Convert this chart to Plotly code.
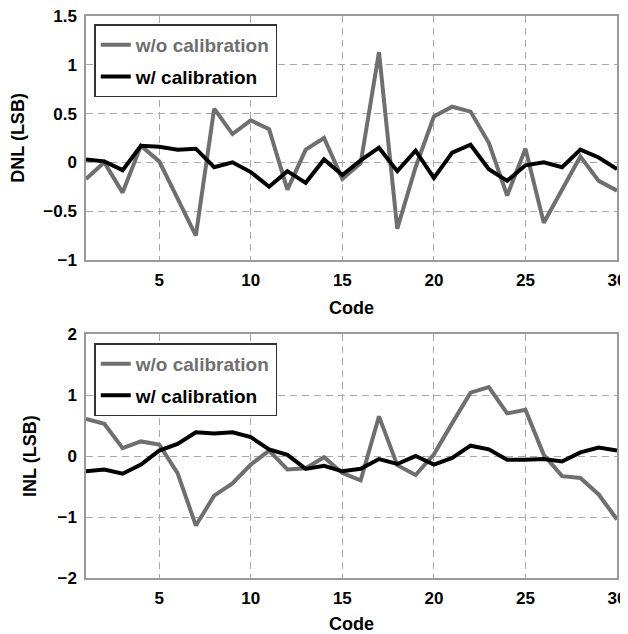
import plotly.graph_objects as go
from plotly.subplots import make_subplots

codes = list(range(1, 31))

dnl_wo = [-0.17, 0.0, -0.31, 0.17, 0.01, -0.38, -0.75, 0.55, 0.29, 0.43,
          0.34, -0.28, 0.13, 0.25, -0.17, -0.01, 1.13, -0.68, -0.05, 0.47,
          0.57, 0.52, 0.2, -0.34, 0.14, -0.62, -0.29, 0.06, -0.19, -0.29]
dnl_w = [0.03, 0.01, -0.08, 0.17, 0.16, 0.13, 0.14, -0.05, 0.0, -0.1,
         -0.25, -0.09, -0.21, 0.03, -0.13, 0.02, 0.15, -0.09, 0.12, -0.16,
         0.10, 0.18, -0.07, -0.19, -0.03, 0.0, -0.05, 0.13, 0.05, -0.07]
inl_wo = [0.61, 0.53, 0.13, 0.24, 0.19, -0.28, -1.14, -0.65, -0.45, -0.14,
          0.09, -0.22, -0.2, -0.02, -0.28, -0.4, 0.65, -0.15, -0.31, 0.03,
          0.54, 1.04, 1.13, 0.7, 0.76, 0.02, -0.33, -0.36, -0.63, -1.04]
inl_w = [-0.25, -0.22, -0.29, -0.14, 0.09, 0.2, 0.39, 0.37, 0.39, 0.31,
         0.11, 0.02, -0.21, -0.16, -0.25, -0.21, -0.05, -0.13, 0.0, -0.14,
         -0.03, 0.17, 0.11, -0.06, -0.06, -0.05, -0.09, 0.06, 0.14, 0.09]

x_ticks = [5, 10, 15, 20, 25, 30]
dnl_ticks = [-1, -0.5, 0, 0.5, 1, 1.5]
inl_ticks = [-2, -1, 0, 1, 2]

name_wo = "w/o calibration"
name_w = "w/ calibration"
GRAY = "#6f6f6f"
FONT = "Liberation Sans, Arial, sans-serif"

fig = make_subplots(rows=2, cols=1, vertical_spacing=0.132)

def add_pair(y_wo, y_w, row, legend):
    fig.add_trace(go.Scatter(x=codes, y=y_wo, mode="lines",
                             name='<span style="color:%s">%s</span>' % (GRAY, name_wo),
                             line=dict(color=GRAY, width=4), legend=legend,
                             legendgroup=legend + "a"), row=row, col=1)
    fig.add_trace(go.Scatter(x=codes, y=y_w, mode="lines", name=name_w,
                             line=dict(color="black", width=4), legend=legend,
                             legendgroup=legend + "b"), row=row, col=1)

add_pair(dnl_wo, dnl_w, 1, "legend")
add_pair(inl_wo, inl_w, 2, "legend2")

tick_font = dict(family=FONT, size=17, color="black", weight="bold")
title_font = dict(family=FONT, size=18, color="black", weight="bold")

axis_common = dict(showline=True, mirror=True, linecolor="#9a9a9a", linewidth=1.5,
                   showgrid=True, gridcolor="#a8a8a8", griddash="7px,5px", gridwidth=1,
                   zeroline=False, ticks="", tickfont=tick_font, title_font=title_font,
                   automargin=False, ticklabeloverflow="allow")

fig.update_xaxes(range=[1, 30], tickvals=x_ticks, title_text="Code",
                 title_standoff=12, ticklabelstandoff=4, **axis_common)
fig.update_yaxes(title_standoff=16, ticklabelstandoff=4, **axis_common)
fig.update_yaxes(range=[-1, 1.5], tickvals=dnl_ticks, title_text="DNL (LSB)", row=1, col=1)
fig.update_yaxes(range=[-2, 2], tickvals=inl_ticks, title_text="INL (LSB)", row=2, col=1)

legend_common = dict(x=0.0156, xanchor="left", yanchor="top", bgcolor="white",
                     bordercolor="#333333", borderwidth=1.5,
                     font=dict(family=FONT, size=19, color="black", weight="bold"),
                     itemwidth=30, tracegroupgap=4)

# page body adds an 8px offset; compensate so the plot lands where the reference has it
fig.update_layout(
    width=620, height=626,
    margin=dict(l=78, r=11, t=8, b=56),
    plot_bgcolor="white", paper_bgcolor="white",
    font=dict(family=FONT, color="black"),
    showlegend=True,
    legend=dict(y=0.985, **legend_common),
    legend2=dict(y=0.4176, **legend_common),
)

fig.write_html("out.html")
